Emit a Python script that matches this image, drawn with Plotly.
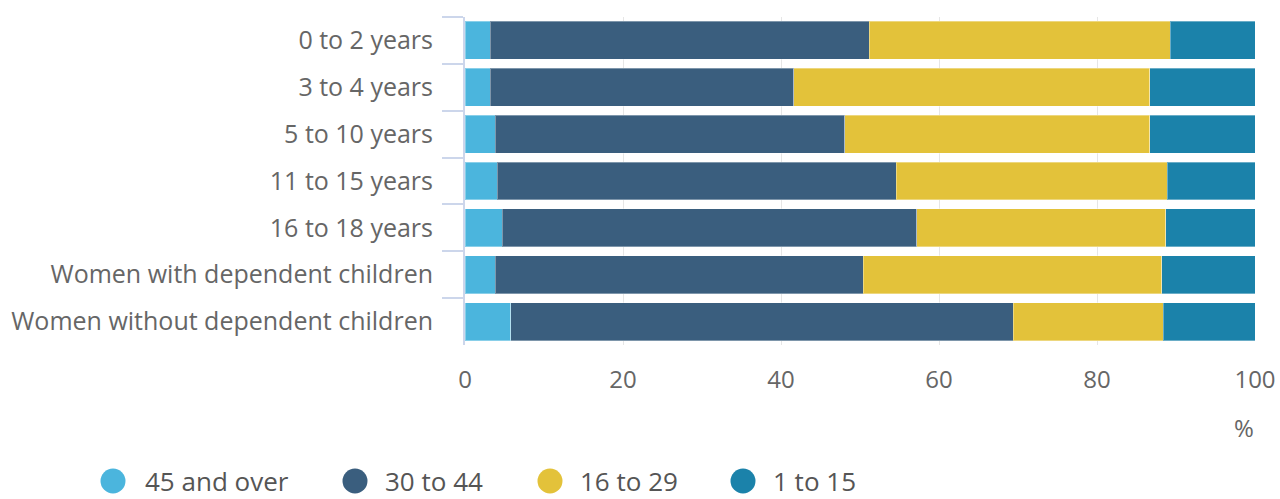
import plotly.graph_objects as go

# Share of women by age group, split by age of youngest dependent child
categories = [
    "0 to 2 years",
    "3 to 4 years",
    "5 to 10 years",
    "11 to 15 years",
    "16 to 18 years",
    "Women with dependent children",
    "Women without dependent children",
]
series_names = ["45 and over", "30 to 44", "16 to 29", "1 to 15"]
age_45_over = [3.2, 3.2, 3.8, 4.1, 4.7, 3.8, 5.8]
age_30_44 = [48.0, 38.4, 44.3, 50.5, 52.5, 46.6, 63.6]
age_16_29 = [38.1, 45.1, 38.6, 34.3, 31.5, 37.8, 19.0]
age_1_15 = [10.7, 13.3, 13.3, 11.1, 11.3, 11.8, 11.6]
x_ticks = [0, 20, 40, 60, 80, 100]

colors = ["#4bb5dd", "#3a5e7e", "#e3c23a", "#1b82aa"]
series_values = [age_45_over, age_30_44, age_16_29, age_1_15]

W, H = 1280, 499
M_L, M_R, M_T, M_B = 465, 25, 17, 154
PW, PH = W - M_L - M_R, H - M_T - M_B


def px_to_paper_x(px):
    return (px - M_L) / PW


def px_to_paper_y(py):
    return (H - M_B - py) / PH


FONT = "Open Sans, Noto Sans, sans-serif"

fig = go.Figure()
for name, vals, col in zip(series_names, series_values, colors):
    fig.add_trace(go.Bar(
        y=categories,
        x=vals,
        name=name,
        orientation="h",
        marker=dict(color=col, line=dict(color="rgba(255,255,255,0.35)", width=1)),
        showlegend=False,
        hovertemplate="%{y}<br>" + name + ": %{x}%<extra></extra>",
    ))

fig.update_layout(
    width=W,
    height=H,
    barmode="stack",
    bargap=0.19,
    margin=dict(l=M_L, r=M_R, t=M_T, b=M_B, autoexpand=False),
    plot_bgcolor="white",
    paper_bgcolor="white",
    font=dict(family=FONT, color="#666666", size=24),
    xaxis=dict(
        range=[0, 100],
        tickvals=x_ticks,
        ticktext=[str(t) for t in x_ticks],
        showgrid=True,
        gridcolor="#e6e6e6",
        gridwidth=1,
        zeroline=False,
        showline=False,
        ticks="outside",
        ticklen=13,
        tickcolor="rgba(0,0,0,0)",
        tickfont=dict(size=24, color="#666666"),
        automargin=False,
    ),
    yaxis=dict(
        categoryorder="array",
        categoryarray=categories,
        autorange="reversed",
        showline=True,
        linecolor="#ccd6eb",
        linewidth=2,
        ticks="outside",
        tickson="boundaries",
        ticklen=21,
        tickwidth=2,
        tickcolor="#ccd6eb",
        ticklabelstandoff=25,
        tickfont=dict(size=25, color="#666666"),
        showgrid=False,
        automargin=False,
    ),
)

# Axis unit label
fig.add_annotation(
    text="%", xref="paper", yref="paper",
    x=px_to_paper_x(1244), y=px_to_paper_y(428),
    xanchor="center", yanchor="middle", showarrow=False,
    font=dict(size=24, color="#666666", family=FONT),
)

# Legend with round markers along the bottom
legend_circle_x = [113, 355, 550, 743]
legend_text_x = [143, 383, 578, 771]
legend_y = 481
r = 12.5
for name, col, cx, tx in zip(series_names, colors, legend_circle_x, legend_text_x):
    fig.add_shape(
        type="circle", xref="paper", yref="paper",
        xsizemode="pixel", ysizemode="pixel",
        xanchor=px_to_paper_x(cx), yanchor=px_to_paper_y(legend_y),
        x0=-r, x1=r, y0=-r, y1=r,
        fillcolor=col, line=dict(width=0), layer="above",
    )
    fig.add_annotation(
        text=name, xref="paper", yref="paper",
        x=px_to_paper_x(tx), y=px_to_paper_y(legend_y),
        xanchor="left", yanchor="middle", showarrow=False,
        font=dict(size=26, color="#555555", family=FONT),
    )

fig.write_html("out.html")
